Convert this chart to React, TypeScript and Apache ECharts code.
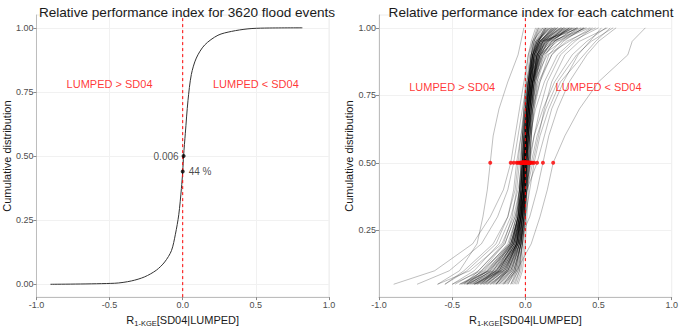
import { useEffect, useRef } from "react";
import * as echarts from "echarts";

// Empirical CDF of the relative performance index over all flood events
const eventIndex = [-0.904, -0.465, -0.351, -0.26, -0.18, -0.123, -0.077, -0.05, -0.027, -0.009, 0, 0.006, 0.018, 0.036, 0.059, 0.093, 0.15, 0.241, 0.333, 0.446, 0.56, 0.818];
const eventCdf = [0, 0.004, 0.013, 0.029, 0.055, 0.087, 0.131, 0.195, 0.271, 0.373, 0.44, 0.5, 0.589, 0.716, 0.818, 0.882, 0.933, 0.971, 0.986, 0.996, 0.999, 1.0];

// Highlighted values on the event curve
const medianIndex = 0.006;
const shareBelowZero = 0.44;

// Probability levels at which each catchment's index quantiles are given
const levels = [0.05, 0.1, 0.2, 0.3, 0.4, 0.5, 0.6, 0.7, 0.8, 0.9, 0.95, 1.0];

// Per-catchment quantiles of the relative performance index
const catchments: number[][] = [
  [-0.60, -0.45, -0.33, -0.29, -0.26, -0.24, -0.22, -0.18, -0.12, -0.05, -0.03, -0.01],
  [-0.90, -0.62, -0.36, -0.24, -0.15, -0.10, -0.07, -0.04, -0.01, 0.02, 0.05, 0.09],
  [-0.74, -0.52, -0.30, -0.19, -0.12, -0.08, -0.05, -0.02, 0.01, 0.05, 0.09, 0.14],
  [-0.15, -0.06, 0.04, 0.10, 0.15, 0.19, 0.27, 0.37, 0.50, 0.70, 0.73, 0.82],
  [-0.35, -0.20, -0.05, 0.03, 0.08, 0.12, 0.16, 0.22, 0.30, 0.42, 0.50, 0.62],
  [-0.55, -0.40, -0.20, -0.12, -0.08, -0.06, -0.03, 0.00, 0.04, 0.10, 0.20, 0.35],
  [-0.50, -0.30, -0.14, -0.07, -0.02, 0.02, 0.06, 0.12, 0.20, 0.32, 0.42, 0.55],
  [-0.45, -0.25, -0.10, -0.04, 0.00, 0.04, 0.08, 0.14, 0.22, 0.35, 0.45, 0.60],
  [-0.20, -0.12, -0.04, 0.00, 0.03, 0.06, 0.10, 0.16, 0.24, 0.40, 0.48, 0.58],
  [-0.40, -0.22, -0.08, -0.03, 0.01, 0.08, 0.13, 0.18, 0.26, 0.36, 0.44, 0.52],
  [-0.50, -0.35, -0.18, -0.10, -0.05, -0.02, 0.01, 0.05, 0.10, 0.18, 0.26, 0.40],
  [-0.60, -0.38, -0.16, -0.08, -0.04, -0.01, 0.03, 0.07, 0.13, 0.22, 0.32, 0.50],
  [-0.28, -0.18, -0.08, -0.03, 0.00, 0.03, 0.06, 0.10, 0.15, 0.24, 0.34, 0.46],
  [-0.48, -0.32, -0.15, -0.09, -0.06, -0.04, -0.02, 0.01, 0.05, 0.12, 0.18, 0.30],
  [-0.33, -0.16, -0.06, -0.02, 0.01, 0.05, 0.09, 0.13, 0.18, 0.27, 0.37, 0.56],
  [-0.55, -0.42, -0.22, -0.12, -0.07, -0.05, -0.03, -0.01, 0.02, 0.08, 0.14, 0.26],
  [-0.42, -0.25, -0.08, -0.04, -0.02, -0.01, 0.00, 0.02, 0.04, 0.08, 0.15, 0.30],
  [-0.38, -0.20, -0.06, -0.03, -0.01, 0.00, 0.01, 0.02, 0.05, 0.10, 0.20, 0.35],
  [-0.30, -0.15, -0.05, -0.02, -0.01, 0.00, 0.01, 0.03, 0.05, 0.09, 0.12, 0.22],
  [-0.25, -0.12, -0.04, -0.02, -0.01, 0.00, 0.00, 0.01, 0.03, 0.05, 0.08, 0.15],
  [-0.40, -0.30, -0.10, -0.05, -0.03, -0.02, -0.01, 0.00, 0.02, 0.05, 0.10, 0.25],
  [-0.20, -0.10, -0.03, -0.01, 0.00, 0.01, 0.02, 0.04, 0.06, 0.12, 0.25, 0.40],
  [-0.35, -0.18, -0.07, -0.03, -0.01, 0.01, 0.02, 0.03, 0.06, 0.15, 0.30, 0.45],
  [-0.15, -0.08, -0.03, -0.02, -0.01, -0.01, 0.00, 0.01, 0.02, 0.04, 0.06, 0.10],
  [-0.28, -0.16, -0.06, -0.03, -0.02, -0.01, 0.00, 0.01, 0.03, 0.06, 0.10, 0.18],
  [-0.45, -0.28, -0.12, -0.06, -0.03, -0.02, -0.01, 0.01, 0.03, 0.07, 0.12, 0.20],
  [-0.10, -0.05, -0.02, -0.01, 0.00, 0.00, 0.01, 0.02, 0.03, 0.05, 0.07, 0.12],
  [-0.33, -0.20, -0.09, -0.05, -0.03, -0.02, -0.01, 0.00, 0.02, 0.05, 0.09, 0.16],
  [-0.22, -0.12, -0.05, -0.02, 0.00, 0.01, 0.03, 0.05, 0.09, 0.18, 0.28, 0.48],
  [-0.40, -0.22, -0.08, -0.04, -0.02, 0.00, 0.01, 0.03, 0.04, 0.06, 0.09, 0.14],
  [-0.18, -0.09, -0.04, -0.02, -0.01, 0.00, 0.02, 0.03, 0.05, 0.08, 0.14, 0.32],
  [-0.38, -0.26, -0.11, -0.06, -0.04, -0.03, -0.02, -0.01, 0.01, 0.04, 0.08, 0.18],
  [-0.12, -0.06, -0.02, 0.00, 0.01, 0.02, 0.03, 0.04, 0.06, 0.10, 0.16, 0.26],
  [-0.26, -0.14, -0.05, -0.03, -0.01, 0.00, 0.01, 0.02, 0.04, 0.07, 0.11, 0.38],
  [-0.35, -0.17, -0.06, -0.03, -0.02, -0.01, 0.00, 0.01, 0.02, 0.04, 0.05, 0.08],
  [-0.08, -0.04, -0.02, -0.01, 0.00, 0.01, 0.02, 0.03, 0.05, 0.09, 0.18, 0.42],
  [-0.30, -0.22, -0.10, -0.05, -0.02, 0.00, 0.02, 0.04, 0.08, 0.14, 0.20, 0.28],
  [-0.24, -0.11, -0.04, -0.02, -0.01, 0.00, 0.01, 0.01, 0.02, 0.04, 0.06, 0.09],
  [-0.42, -0.32, -0.14, -0.07, -0.04, -0.02, 0.00, 0.01, 0.03, 0.06, 0.11, 0.24],
  [-0.16, -0.08, -0.03, -0.01, 0.00, 0.01, 0.02, 0.03, 0.04, 0.07, 0.10, 0.20],
  [-0.36, -0.19, -0.07, -0.04, -0.02, -0.01, 0.00, 0.02, 0.03, 0.06, 0.12, 0.34],
  [-0.20, -0.13, -0.06, -0.03, -0.02, -0.01, 0.01, 0.02, 0.05, 0.11, 0.22, 0.44],
  [-0.06, -0.03, -0.01, 0.00, 0.00, 0.01, 0.01, 0.02, 0.03, 0.05, 0.08, 0.16],
  [-0.32, -0.18, -0.08, -0.04, -0.03, -0.02, -0.01, 0.00, 0.01, 0.03, 0.05, 0.12],
  [-0.27, -0.15, -0.05, -0.02, 0.00, 0.02, 0.04, 0.06, 0.10, 0.16, 0.24, 0.36],
  [-0.14, -0.07, -0.03, -0.02, -0.01, 0.00, 0.01, 0.02, 0.04, 0.06, 0.09, 0.13],
  [-0.44, -0.24, -0.09, -0.05, -0.03, -0.01, 0.00, 0.02, 0.04, 0.09, 0.16, 0.27],
  [-0.18, -0.10, -0.04, -0.01, 0.01, 0.03, 0.04, 0.06, 0.08, 0.12, 0.18, 0.30],
  [-0.29, -0.17, -0.07, -0.04, -0.03, -0.02, -0.02, -0.01, 0.00, 0.02, 0.04, 0.07],
  [-0.10, -0.06, -0.03, -0.01, 0.00, 0.00, 0.01, 0.02, 0.03, 0.04, 0.06, 0.11],
  [-0.37, -0.21, -0.08, -0.04, -0.02, -0.01, 0.01, 0.02, 0.04, 0.08, 0.13, 0.23],
  [-0.23, -0.13, -0.06, -0.04, -0.03, -0.02, -0.01, 0.01, 0.02, 0.05, 0.07, 0.17],
  [-0.05, -0.02, 0.00, 0.01, 0.02, 0.03, 0.04, 0.05, 0.07, 0.11, 0.15, 0.27],
  [-0.31, -0.19, -0.09, -0.05, -0.04, -0.03, -0.02, 0.00, 0.02, 0.06, 0.10, 0.19],
  [-0.19, -0.10, -0.04, -0.02, -0.01, 0.00, 0.00, 0.01, 0.02, 0.04, 0.07, 0.14],
  [-0.41, -0.27, -0.10, -0.05, -0.02, 0.00, 0.02, 0.03, 0.05, 0.10, 0.17, 0.32],
  [-0.34, -0.20, -0.08, -0.05, -0.04, -0.03, -0.02, 0.00, 0.02, 0.05, 0.09, 0.21],
  [-0.26, -0.15, -0.06, -0.03, -0.01, 0.01, 0.03, 0.04, 0.06, 0.09, 0.14, 0.29],
  [-0.39, -0.23, -0.09, -0.04, -0.02, -0.01, 0.01, 0.03, 0.05, 0.08, 0.12, 0.25],
  [-0.21, -0.11, -0.05, -0.03, -0.02, -0.01, 0.00, 0.02, 0.04, 0.07, 0.10, 0.19],
  [-0.13, -0.07, -0.03, -0.01, 0.01, 0.02, 0.03, 0.05, 0.07, 0.10, 0.13, 0.24],
  [-0.43, -0.29, -0.11, -0.06, -0.04, -0.02, -0.01, 0.01, 0.03, 0.06, 0.10, 0.22],
  [-0.17, -0.09, -0.04, -0.02, 0.00, 0.01, 0.02, 0.04, 0.06, 0.09, 0.15, 0.36],
  [-0.31, -0.16, -0.06, -0.03, -0.01, 0.00, 0.01, 0.03, 0.05, 0.10, 0.16, 0.33],
  [-0.09, -0.05, -0.02, 0.00, 0.01, 0.02, 0.03, 0.04, 0.05, 0.08, 0.11, 0.18],
  [-0.36, -0.24, -0.10, -0.05, -0.03, -0.02, -0.01, 0.01, 0.03, 0.07, 0.11, 0.21],
  [-0.24, -0.13, -0.05, -0.02, 0.00, 0.01, 0.02, 0.03, 0.05, 0.08, 0.12, 0.26],
  [-0.29, -0.18, -0.07, -0.04, -0.02, -0.01, 0.00, 0.02, 0.04, 0.06, 0.09, 0.15],
  [-0.12, -0.07, -0.03, -0.01, 0.00, 0.02, 0.03, 0.04, 0.06, 0.11, 0.19, 0.39],
  [-0.40, -0.26, -0.09, -0.05, -0.03, -0.02, 0.00, 0.02, 0.03, 0.05, 0.08, 0.13],
  [-0.20, -0.12, -0.05, -0.03, -0.02, -0.01, 0.01, 0.02, 0.04, 0.06, 0.10, 0.20],
  [-0.07, -0.04, -0.02, 0.00, 0.01, 0.03, 0.04, 0.05, 0.06, 0.08, 0.12, 0.22],
  [-0.34, -0.17, -0.07, -0.03, -0.01, 0.00, 0.02, 0.03, 0.05, 0.09, 0.14, 0.31],
  [-0.27, -0.14, -0.06, -0.03, -0.02, -0.01, 0.00, 0.01, 0.03, 0.05, 0.08, 0.17],
  [-0.22, -0.14, -0.06, -0.04, -0.02, -0.01, 0.01, 0.03, 0.05, 0.08, 0.13, 0.28],
  [-0.15, -0.08, -0.03, -0.01, 0.00, 0.01, 0.02, 0.04, 0.07, 0.13, 0.21, 0.41],
];

const yTicksLeft = [0, 0.25, 0.5, 0.75, 1];
const yTicksRight = [0.25, 0.5, 0.75, 1];

// value ranges of the two panels (data range plus a 5 % margin)
const leftYRange = [-0.05, 1.05];
const rightYRange = [0.0025, 1.0475];

const FONT = "'Liberation Sans', Arial, Helvetica, sans-serif";
const TICK_COLOR = "#4d4d4d";
const GRID_FAINT = "#f1f1f1";
const RED = "#ff0000";

function xAxisFor(gridIndex: number) {
  return {
    type: "value",
    gridIndex,
    min: -1,
    max: 1,
    interval: 0.5,
    name: "{r|R}{s|1-KGE}{r|[SD04|LUMPED]}",
    nameLocation: "middle",
    nameGap: 13,
    nameTextStyle: {
      verticalAlign: "top",
      rich: {
        r: { fontSize: 11, color: "#1a1a1a", fontFamily: FONT, verticalAlign: "bottom" },
        s: { fontSize: 7.5, color: "#1a1a1a", fontFamily: FONT, verticalAlign: "bottom", padding: [0, 0, -2, 0] },
      },
    },
    axisLine: { show: true, onZero: false, lineStyle: { color: "#bdbdbd", width: 1 } },
    axisTick: { show: true, length: 3, lineStyle: { color: "#8a8a8a" } },
    axisLabel: {
      fontSize: 9,
      color: TICK_COLOR,
      margin: 3,
      formatter: (v: number) => v.toFixed(1),
    },
    splitLine: { show: true, lineStyle: { color: GRID_FAINT, width: 1 } },
  };
}

function yAxisFor(gridIndex: number, range: number[], ticks: number[]) {
  return {
    type: "value",
    gridIndex,
    min: range[0],
    max: range[1],
    name: "Cumulative distribution",
    nameLocation: "middle",
    nameGap: 23,
    nameTextStyle: { fontSize: 11, color: "#1a1a1a", fontFamily: FONT },
    axisLine: { show: true, onZero: false, lineStyle: { color: "#bdbdbd", width: 1 } },
    axisTick: { show: true, length: 3, lineStyle: { color: "#8a8a8a" }, customValues: ticks },
    axisLabel: {
      fontSize: 9,
      color: TICK_COLOR,
      margin: 3,
      customValues: ticks,
      formatter: (v: number) => v.toFixed(2),
    },
    splitLine: { show: false },
  };
}

// dashed red reference line at an index of zero, spanning the whole panel
function zeroLineSeries(axisIndex: number, range: number[]) {
  return {
    type: "line",
    xAxisIndex: axisIndex,
    yAxisIndex: axisIndex,
    data: [[0, range[0]], [0, range[1]]],
    showSymbol: false,
    symbol: "none",
    silent: true,
    lineStyle: { color: RED, type: [3, 3], width: 1 },
    z: 9,
  };
}

function faintHorizontals(ticks: number[]) {
  return {
    silent: true,
    symbol: "none",
    z: 0,
    label: { show: false },
    lineStyle: { color: GRID_FAINT, type: "solid", width: 1 },
    data: ticks.map((t) => ({ yAxis: t })),
  };
}

function regionLabel(xi: number, yi: number, x: number, y: number, text: string) {
  return {
    type: "scatter",
    xAxisIndex: xi,
    yAxisIndex: yi,
    symbolSize: 0,
    silent: true,
    data: [[x, y]],
    label: {
      show: true,
      position: "inside",
      formatter: text,
      color: RED,
      fontSize: 11,
      fontFamily: FONT,
    },
    z: 5,
  };
}

const medianPos = levels.indexOf(0.5);

export default function App() {
  const ref = useRef<HTMLDivElement>(null);

  useEffect(() => {
    if (!ref.current) return;
    const chart = echarts.init(ref.current, null, { renderer: "svg" });

    const catchmentSeries = catchments.map((q) => ({
      type: "line",
      xAxisIndex: 1,
      yAxisIndex: 1,
      data: q.map((x, i) => [x, levels[i]]),
      showSymbol: false,
      symbol: "none",
      silent: true,
      lineStyle: { color: "rgba(0,0,0,0.3)", width: 0.85 },
      z: 2,
    }));

    const titleStyle = { fontSize: 13.6, fontWeight: "normal", color: "#1a1a1a", fontFamily: FONT };

    const option = {
      animation: false,
      textStyle: { fontFamily: FONT },
      title: [
        { text: "Relative performance index for 3620 flood events", left: 182, top: 0, textAlign: "center", textStyle: titleStyle },
        { text: "Relative performance index for each catchment", left: 526, top: 0, textAlign: "center", textStyle: titleStyle },
      ],
      grid: [
        { left: 35, top: 15, width: 294, height: 289, show: true, borderColor: "#ececec", borderWidth: 1, backgroundColor: "#ffffff" },
        { left: 379, top: 15, width: 294, height: 289, show: true, borderColor: "#ececec", borderWidth: 1, backgroundColor: "#ffffff" },
      ],
      xAxis: [xAxisFor(0), xAxisFor(1)],
      yAxis: [
        yAxisFor(0, leftYRange, yTicksLeft),
        yAxisFor(1, rightYRange, yTicksRight),
      ],
      series: [
        {
          type: "line",
          xAxisIndex: 0,
          yAxisIndex: 0,
          data: eventIndex.map((x, i) => [x, eventCdf[i]]),
          showSymbol: false,
          symbol: "none",
          smooth: 0.3,
          silent: true,
          lineStyle: { color: "#333333", width: 1 },
          markLine: faintHorizontals(yTicksLeft),
          z: 3,
        },
        zeroLineSeries(0, leftYRange),
        {
          type: "scatter",
          xAxisIndex: 0,
          yAxisIndex: 0,
          symbolSize: 4,
          silent: true,
          itemStyle: { color: "#000000" },
          data: [
            { value: [medianIndex, 0.5], label: { show: true, position: "left", distance: 3, formatter: medianIndex.toFixed(3) } },
            { value: [0, shareBelowZero], label: { show: true, position: "right", distance: 4, formatter: `${Math.round(shareBelowZero * 100)} %` } },
          ],
          label: { fontSize: 10, color: "#1a1a1a", fontFamily: FONT },
          z: 10,
        },
        regionLabel(0, 0, -0.5, 0.78, "LUMPED > SD04"),
        regionLabel(0, 0, 0.5, 0.78, "LUMPED < SD04"),
        {
          type: "line",
          xAxisIndex: 1,
          yAxisIndex: 1,
          data: [],
          markLine: faintHorizontals(yTicksRight),
          z: 0,
        },
        ...catchmentSeries,
        zeroLineSeries(1, rightYRange),
        {
          type: "scatter",
          xAxisIndex: 1,
          yAxisIndex: 1,
          symbolSize: 4,
          silent: true,
          itemStyle: { color: RED },
          data: catchments.map((q) => [q[medianPos], 0.5]),
          z: 10,
        },
        regionLabel(1, 1, -0.5, 0.78, "LUMPED > SD04"),
        regionLabel(1, 1, 0.5, 0.78, "LUMPED < SD04"),
      ],
    };

    chart.setOption(option as any);
    return () => chart.dispose();
  }, []);

  return (
    <div
      ref={ref}
      style={{ position: "absolute", left: 0, top: 0, width: 681, height: 332, background: "#ffffff" }}
    />
  );
}
